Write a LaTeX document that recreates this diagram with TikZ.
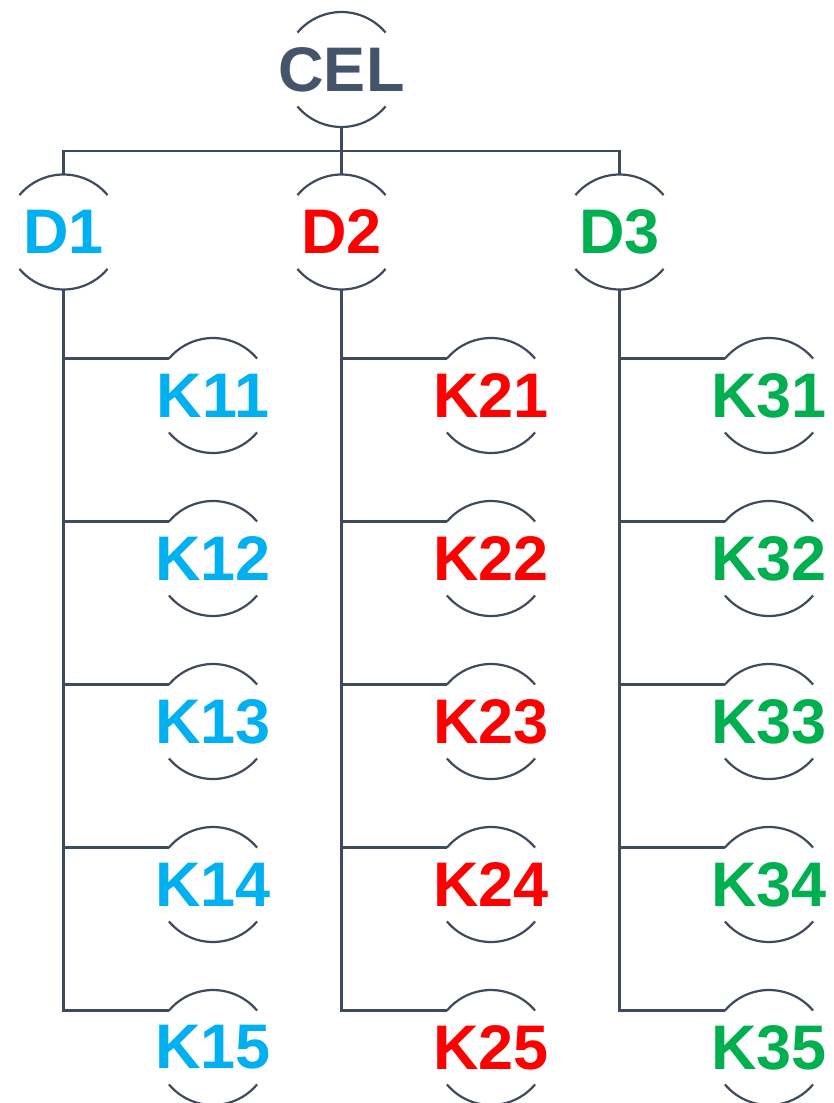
\documentclass[tikz,border=0pt]{standalone}
\usepackage{fontspec}
\setmainfont{Liberation Sans}
\usepackage{tikz}
\usetikzlibrary{positioning}
\definecolor{slate}{HTML}{44546A}
\definecolor{wireclr}{HTML}{3E4B5C}
\definecolor{dept1}{HTML}{00B0F0}
\definecolor{dept2}{HTML}{FF0000}
\definecolor{dept3}{HTML}{00B050}
\newcommand{\lbl}[1]{\makebox[0pt]{#1}}
\begin{document}
\begin{tikzpicture}[x=1pt, y=1pt,
    unit/.style={circle, minimum size=115pt, inner sep=0pt, outer sep=0pt, font=\fontsize{63}{63}\selectfont\bfseries},
    wire/.style={draw=wireclr, line width=2.2pt}
]
    \useasboundingbox (0,0) rectangle (833,-1103);
    \node[unit, text=slate] (CEL) at (341.5,-69.5) {\lbl{CEL}};
    % departments
    \node[unit, text=dept2, below=47.5pt of CEL] (D2) {\lbl{D2}};
    \node[unit, text=dept1, left=163pt of D2] (D1) {\lbl{D1}};
    \node[unit, text=dept3, right=163pt of D2] (D3) {\lbl{D3}};
    % first column
    \node[unit, text=dept1, below=48.5pt of D1, xshift=149.5pt] (K11) {\lbl{K11}};
    \node[unit, text=dept1, below=48pt of K11] (K12) {\lbl{K12}};
    \node[unit, text=dept1, below=48pt of K12] (K13) {\lbl{K13}};
    \node[unit, text=dept1, below=48pt of K13] (K14) {\lbl{K14}};
    \node[unit, text=dept1, below=48pt of K14] (K15) {\lbl{K15}};
    % second column
    \node[unit, text=dept2, below=48.5pt of D2, xshift=149.5pt] (K21) {\lbl{K21}};
    \node[unit, text=dept2, below=48pt of K21] (K22) {\lbl{K22}};
    \node[unit, text=dept2, below=48pt of K22] (K23) {\lbl{K23}};
    \node[unit, text=dept2, below=48pt of K23] (K24) {\lbl{K24}};
    \node[unit, text=dept2, below=48pt of K24] (K25) {\lbl{K25}};
    % third column
    \node[unit, text=dept3, below=48.5pt of D3, xshift=149.5pt] (K31) {\lbl{K31}};
    \node[unit, text=dept3, below=48pt of K31] (K32) {\lbl{K32}};
    \node[unit, text=dept3, below=48pt of K32] (K33) {\lbl{K33}};
    \node[unit, text=dept3, below=48pt of K33] (K34) {\lbl{K34}};
    \node[unit, text=dept3, below=48pt of K34] (K35) {\lbl{K35}};
    % open circles
    \foreach \n in {CEL,D1,D2,D3,K11,K12,K13,K14,K15,K21,K22,K23,K24,K25,K31,K32,K33,K34,K35}
        \draw[wire] (\n.40) arc[start angle=40, end angle=140, radius=57.5pt]
                    (\n.220) arc[start angle=220, end angle=320, radius=57.5pt];
    % tree lines
    \coordinate (bus) at (CEL.south |- 0,-151);
    \draw[wire] (CEL.south) -- (D2.north);
    \draw[wire] (D1.north) |- (bus) -| (D3.north);
    \foreach \d in {1,2,3} {
        \draw[wire] (D\d.south) |- (K\d5.140);
        \foreach \k in {1,2,3,4}
            \draw[wire] (D\d.south |- K\d\k.140) -- (K\d\k.140);
    }
\end{tikzpicture}
\end{document}
